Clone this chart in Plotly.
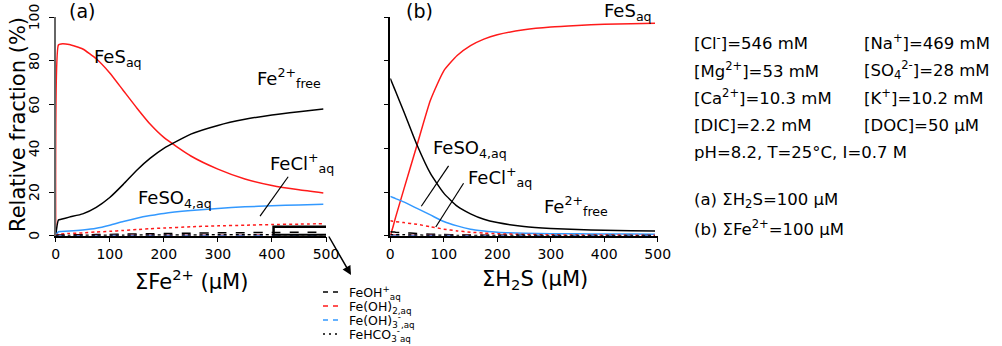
import plotly.graph_objects as go

# ---- data ----
# (a) sum H2S = 100 uM, x = total Fe(II)
fe_a = [0, 5, 10, 25, 50, 75, 100, 125, 150, 175, 200, 250, 300, 350, 400, 450, 495]
fes_a = [0, 87.3, 87.8, 87.5, 85.5, 81, 74.5, 66.5, 58.5, 51, 45, 36.5, 30.5, 26, 23, 21, 19.6]
fefree_a = [0, 7.2, 7.5, 8.5, 10, 13, 17.5, 23.5, 30, 35.5, 40, 46.5, 50.5, 53.3, 55.3, 56.8, 58]
feso4_a = [0, 1.8, 1.9, 2.1, 2.6, 3.4, 4.8, 6.5, 8, 9.2, 10.2, 11.5, 12.5, 13.2, 13.7, 14.1, 14.4]
fecl_a = [0, 0.7, 0.8, 1.0, 1.3, 1.7, 2.0, 2.4, 2.8, 3.2, 3.5, 4.1, 4.5, 4.8, 5.1, 5.3, 5.5]
feoh_a = [0, 0.3, 0.3, 0.35, 0.45, 0.5, 0.6, 0.7, 0.8, 0.9, 1.0, 1.15, 1.3, 1.4, 1.5, 1.55, 1.6]
feoh2_a = [0, 0.05, 0.05, 0.05, 0.08, 0.1, 0.12, 0.14, 0.16, 0.18, 0.2, 0.22, 0.24, 0.26, 0.28, 0.29, 0.3]
feoh3_a = [0, 0.02, 0.02, 0.02, 0.03, 0.03, 0.04, 0.04, 0.05, 0.05, 0.05, 0.06, 0.06, 0.07, 0.07, 0.07, 0.08]
fehco3_a = [0, 0.1, 0.1, 0.12, 0.15, 0.18, 0.2, 0.24, 0.27, 0.3, 0.32, 0.36, 0.4, 0.42, 0.44, 0.46, 0.48]

# (b) sum Fe(II) = 100 uM, x = total H2S
h2s_b = [0, 5, 10, 25, 50, 75, 100, 125, 150, 175, 200, 250, 300, 350, 400, 450, 495]
fes_b = [0, 4, 8.5, 21, 41.5, 62, 75.5, 82.5, 87, 90, 92, 94.3, 95.6, 96.3, 96.8, 97.1, 97.3]
fefree_b = [72, 69, 66, 57, 41.5, 28.5, 19.5, 13.5, 10, 7.5, 6, 4.2, 3.3, 2.8, 2.5, 2.3, 2.1]
feso4_b = [18, 17.5, 17, 15.5, 12.5, 9.5, 6.5, 4.5, 3, 2.2, 1.6, 1.1, 0.9, 0.85, 0.8, 0.75, 0.7]
fecl_b = [6.8, 6.6, 6.4, 6, 5.2, 4.1, 3, 2.2, 1.6, 1.2, 0.9, 0.6, 0.4, 0.35, 0.3, 0.25, 0.2]
feoh_b = [1.8, 1.7, 1.6, 1.4, 1.0, 0.7, 0.5, 0.4, 0.3, 0.25, 0.2, 0.15, 0.1, 0.1, 0.1, 0.1, 0.1]
feoh2_b = [0.3, 0.3, 0.28, 0.25, 0.2, 0.15, 0.1, 0.08, 0.06, 0.05, 0.04, 0.03, 0.02, 0.02, 0.02, 0.02, 0.02]
feoh3_b = [0.1, 0.1, 0.1, 0.09, 0.07, 0.05, 0.04, 0.03, 0.02, 0.02, 0.02, 0.01, 0.01, 0.01, 0.01, 0.01, 0.01]
fehco3_b = [0.5, 0.48, 0.46, 0.4, 0.3, 0.2, 0.15, 0.1, 0.08, 0.06, 0.05, 0.04, 0.03, 0.03, 0.02, 0.02, 0.02]

y_ticks = [0, 20, 40, 60, 80, 100]
x_ticks = [0, 100, 200, 300, 400, 500]

RED = '#ff1a1a'
BLUE = '#3399ff'
FONT = 'DejaVu Sans'
W, H = 1002, 346


def px(x):
    return x / W


def py(y):
    return 1 - y / H


fig = go.Figure()

series_a = [
    (fes_a, RED, 'solid'), (fefree_a, 'black', 'solid'), (feso4_a, BLUE, 'solid'),
    (fecl_a, RED, 'dot'), (feoh_a, 'black', 'dash'), (feoh2_a, RED, 'dash'),
    (feoh3_a, BLUE, 'dash'), (fehco3_a, 'black', 'dot'),
]
series_b = [
    (fes_b, RED, 'solid'), (fefree_b, 'black', 'solid'), (feso4_b, BLUE, 'solid'),
    (fecl_b, RED, 'dot'), (feoh_b, 'black', 'dash'), (feoh2_b, RED, 'dash'),
    (feoh3_b, BLUE, 'dash'), (fehco3_b, 'black', 'dot'),
]
for ys, col, dash in series_a:
    fig.add_trace(go.Scatter(x=fe_a, y=ys, mode='lines', xaxis='x', yaxis='y',
                             line=dict(color=col, width=1.5, dash=dash, shape='spline', smoothing=0.5),
                             showlegend=False))
for ys, col, dash in series_b:
    fig.add_trace(go.Scatter(x=h2s_b, y=ys, mode='lines', xaxis='x2', yaxis='y2',
                             line=dict(color=col, width=1.5, dash=dash, shape='spline', smoothing=0.5),
                             showlegend=False))

axis_common = dict(range=[0, 500], tickvals=x_ticks, ticks='outside',
                   ticklen=5, tickcolor='black', showline=True, linecolor='black', linewidth=1.5,
                   showgrid=False, zeroline=False, automargin=False,
                   tickfont=dict(size=14, color='black'))
# y tick labels are drawn rotated as annotations below
yaxis_common = dict(range=[0, 100], tickvals=y_ticks, ticks='outside',
                    ticklen=5, tickcolor='black', showline=True, linewidth=1.5,
                    showgrid=False, zeroline=False, automargin=False, showticklabels=False)

dom_y = [py(235.7), py(17.3)]
fig.update_layout(
    width=W, height=H,
    margin=dict(l=0, r=0, t=0, b=0),
    paper_bgcolor='white', plot_bgcolor='white',
    font=dict(family=FONT, color='black'),
    xaxis=dict(domain=[px(55.7), px(326)], anchor='y', **axis_common),
    yaxis=dict(domain=dom_y, anchor='x', linecolor='#666666', **yaxis_common),
    xaxis2=dict(domain=[px(390.3), px(657.7)], anchor='y2', **axis_common),
    yaxis2=dict(domain=dom_y, anchor='x2', linecolor='black', **yaxis_common),
)

ann = []


def text(x, y, s, size=18, xanchor='left', yanchor='middle', angle=0):
    ann.append(dict(x=px(x), y=py(y), xref='paper', yref='paper', text=s, showarrow=False,
                    xanchor=xanchor, yanchor=yanchor, textangle=angle,
                    font=dict(size=size, family=FONT, color='black')))


for t in y_ticks:
    ann.append(dict(x=px(34), y=t, xref='paper', yref='y', text=str(t), showarrow=False,
                    xanchor='center', yanchor='middle', textangle=-90,
                    font=dict(size=14, family=FONT, color='black')))

# panel labels and curve labels
text(67, 10.5, '(a)', 19)
text(404, 10.5, '(b)', 19)
text(92, 58, 'FeS<sub>aq</sub>')
text(255, 78, 'Fe<sup>2+</sup><sub>free</sub>')
text(268, 163, 'FeCl<sup>+</sup><sub>aq</sub>')
text(136, 199, 'FeSO<sub>4,aq</sub>')
text(602, 12, 'FeS<sub>aq</sub>')
text(431, 149, 'FeSO<sub>4,aq</sub>')
text(466, 177, 'FeCl<sup>+</sup><sub>aq</sub>')
text(542, 206, 'Fe<sup>2+</sup><sub>free</sub>')

# axis titles
text(18, 125, 'Relative fraction (%)', 21, xanchor='center', angle=-90)
text(191, 280, 'ΣFe<sup>2+</sup> (µM)', 21, xanchor='center')
text(535, 280, 'ΣH<sub>2</sub>S (µM)', 21, xanchor='center')

# conditions block
rows = [
    (42, '[Cl<sup>-</sup>]=546 mM', '[Na<sup>+</sup>]=469 mM'),
    (70, '[Mg<sup>2+</sup>]=53 mM', '[SO<sub>4</sub><sup>2-</sup>]=28 mM'),
    (97, '[Ca<sup>2+</sup>]=10.3 mM', '[K<sup>+</sup>]=10.2 mM'),
    (125, '[DIC]=2.2 mM', '[DOC]=50 µM'),
]
for yy, c1, c2 in rows:
    text(692, yy, c1, 16.5)
    text(862, yy, c2, 16.5)
text(692, 153, 'pH=8.2, T=25°C, I=0.7 M', 16.5)
text(692, 200, '(a) ΣH<sub>2</sub>S=100 µM', 16.5)
text(692, 228, '(b) ΣFe<sup>2+</sup>=100 µM', 16.5)

# small legend for minor species
legend_rows = [
    (292, 'black', '5px,5px', 'FeOH<sup>+</sup><sub>aq</sub>'),
    (306, RED, '5px,5px', 'Fe(OH)<sub>2,aq</sub>'),
    (320, BLUE, '5px,5px', 'Fe(OH)<sub>3</sub><sup>-</sup><sub>,aq</sub>'),
    (334, 'black', '2px,4px', 'FeHCO<sub>3</sub><sup>-</sup><sub>aq</sub>'),
]
shapes = []
for yy, col, dash, lab in legend_rows:
    shapes.append(dict(type='line', xref='paper', yref='paper', x0=px(323), x1=px(340),
                       y0=py(yy), y1=py(yy), line=dict(color=col, width=1.5, dash=dash)))
    text(347, yy + 1, lab, 12.5)

# zoom box and arrow
shapes.append(dict(type='rect', xref='x', yref='y', x0=403, x1=510, y0=0.3, y1=4.1,
                   line=dict(color='black', width=2.5)))
ann.append(dict(x=px(351), y=py(275), xref='paper', yref='paper', ax=-23, ay=-40,
                text='', showarrow=True, arrowhead=2, arrowsize=1.2, arrowwidth=1.5,
                arrowcolor='black'))

# pointer lines
pointers = [
    ('x', 'y', 378, 9, 430, 27),
    ('x2', 'y2', 58, 13.5, 109, 32),
    ('x2', 'y2', 85, 4, 137, 24),
]
for xr, yr, x0, y0, x1, y1 in pointers:
    shapes.append(dict(type='line', xref=xr, yref=yr, x0=x0, y0=y0, x1=x1, y1=y1,
                       line=dict(color='black', width=1.2)))

fig.update_layout(annotations=ann, shapes=shapes)

# drop the default page margin so the figure sits in the corner of the window
fig.write_html("out.html", config={'displayModeBar': False},
               post_script="document.body.style.margin='0';")
